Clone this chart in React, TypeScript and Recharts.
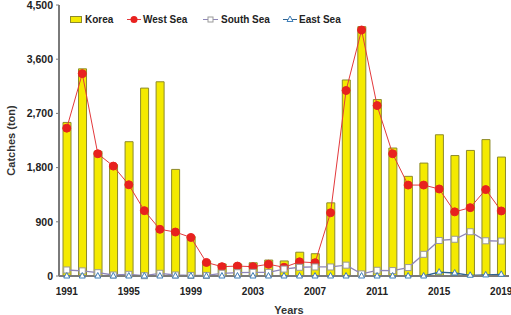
import React from 'react';
import { ComposedChart, Bar, Line, XAxis, YAxis } from 'recharts';

const years = ['1991','1992','1993','1994','1995','1996','1997','1998','1999','2000','2001','2002','2003','2004','2005','2006','2007','2008','2009','2010','2011','2012','2013','2014','2015','2016','2017','2018','2019'];
const korea = [2550,3440,2070,1850,2230,3120,3225,1770,660,250,200,200,220,265,250,395,370,1215,3255,4140,2930,2125,1655,1875,2345,2000,2085,2265,1975];
const westSea = [2455,3360,2030,1825,1515,1085,775,730,640,225,155,165,155,195,145,235,220,1050,3080,4085,2830,2030,1510,1510,1445,1065,1135,1435,1080];
const southSea = [100,85,55,17,28,5,45,17,10,10,45,55,60,60,115,145,150,150,180,35,95,90,140,360,590,610,735,585,580];
const eastSea = [0,0,0,0,0,0,0,0,0,0,0,0,0,0,0,0,0,0,0,0,0,0,0,0,65,50,12,18,28];
const yTicks = [0, 900, 1800, 2700, 3600, 4500];

const data = years.map((y, i) => ({ year: y, korea: korea[i], west: westSea[i], south: southSea[i], east: eastSea[i] }));

const FONT = 'Arial, "Liberation Sans", sans-serif';
const TEXT = '#222';

const SquareDot = (p: any) => {
  const { cx, cy } = p;
  if (cx == null || cy == null) return null;
  return <rect x={cx - 3} y={cy - 3} width={6} height={6} fill="#fff" stroke="#9a9a9a" strokeWidth={1} />;
};
const TriDot = (p: any) => {
  const { cx, cy } = p;
  if (cx == null || cy == null) return null;
  return <polygon points={`${cx},${cy - 3.5} ${cx - 3},${cy + 2} ${cx + 3},${cy + 2}`} fill="#fff" stroke="#3f7fb8" strokeWidth={1} />;
};

const Legend = () => (
  <svg width={300} height={16} style={{ position: 'absolute', left: 66, top: 11 }}>
    <rect x={4.5} y={5.5} width={11} height={6} fill="#f4ea00" stroke="#8d8a2c" />
    <text x={19} y={12} fontSize={10} fontWeight="bold" fill={TEXT} fontFamily={FONT}>Korea</text>
    <line x1={61} x2={75} y1={8.5} y2={8.5} stroke="#e3393c" strokeWidth={1} />
    <circle cx={68} cy={8.5} r={3.5} fill="#e8211f" />
    <text x={77} y={12} fontSize={10} fontWeight="bold" fill={TEXT} fontFamily={FONT}>West Sea</text>
    <line x1={137} x2={152} y1={8.5} y2={8.5} stroke="#8e86b8" strokeWidth={1} />
    <rect x={142} y={6} width={5} height={5} fill="#fff" stroke="#9a9a9a" />
    <text x={155} y={12} fontSize={10} fontWeight="bold" fill={TEXT} fontFamily={FONT}>South Sea</text>
    <line x1={217} x2={231} y1={8.5} y2={8.5} stroke="#2f6391" strokeWidth={1} />
    <polygon points="224,5 221,10.5 227,10.5" fill="#fff" stroke="#3f7fb8" />
    <text x={233} y={12} fontSize={10} fontWeight="bold" fill={TEXT} fontFamily={FONT}>East Sea</text>
  </svg>
);

export default function App() {
  return (
    <div style={{ position: 'absolute', left: 0, top: 0, width: 511, height: 315, background: '#fff' }}>
      <ComposedChart width={511} height={315} data={data} margin={{ top: 5, right: 2, left: 0, bottom: 0 }}>
        <XAxis
          dataKey="year"
          interval={3}
          tickLine={false}
          tickSize={4}
          tickMargin={8}
          axisLine={{ stroke: '#7a7a7a', strokeWidth: 2 }}
          height={39}
          tick={{ fontSize: 10, fontWeight: 'bold', fill: TEXT, fontFamily: FONT }}
          label={{ value: 'Years', position: 'insideBottom', offset: 1, dx: 5, fontSize: 11, fontWeight: 'bold', fill: '#333', fontFamily: FONT }}
        />
        <XAxis xAxisId="top" dataKey="year" orientation="top" height={0} tick={false} tickLine={false} axisLine={{ stroke: '#8a8a8a', strokeWidth: 2 }} />
        <YAxis
          domain={[0, 4500]}
          ticks={yTicks}
          width={59}
          tickLine={{ stroke: '#7a7a7a' }}
          tickSize={3}
          tickMargin={3}
          axisLine={{ stroke: '#7a7a7a', strokeWidth: 2 }}
          tickFormatter={(v: number) => v.toLocaleString('en-US')}
          tick={{ fontSize: 10.5, fontWeight: 'bold', fill: TEXT, fontFamily: FONT }}
          label={{ value: 'Catches (ton)', angle: -90, position: 'center', dx: -18, fontSize: 11, fontWeight: 'bold', fill: '#333', fontFamily: FONT }}
        />
        <YAxis yAxisId="right" orientation="right" width={0} domain={[0, 4500]} tick={false} tickLine={false} axisLine={{ stroke: '#8a8a8a', strokeWidth: 2 }} />
        <Bar dataKey="korea" barSize={8} fill="#f4ea00" stroke="#8d8a2c" strokeWidth={1} isAnimationActive={false} />
        <Line dataKey="west" stroke="#e3393c" strokeWidth={1} dot={{ r: 4, fill: '#e8211f', stroke: '#e8211f', strokeWidth: 1 }} isAnimationActive={false} />
        <Line dataKey="south" stroke="#8e86b8" strokeWidth={1.3} dot={<SquareDot />} isAnimationActive={false} />
        <Line dataKey="east" stroke="#2f6391" strokeWidth={1.3} dot={<TriDot />} isAnimationActive={false} />
      </ComposedChart>
      <Legend />
    </div>
  );
}
